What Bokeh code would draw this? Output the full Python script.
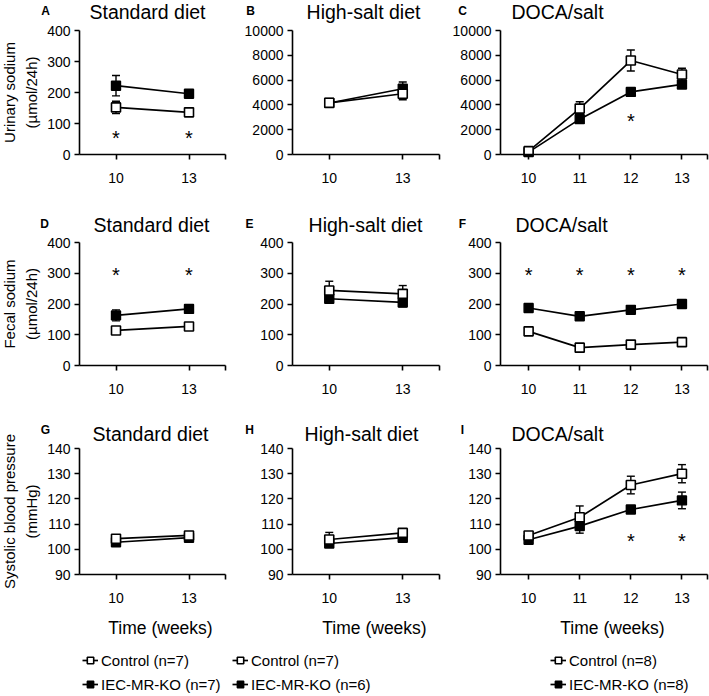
import numpy as np
from bokeh.plotting import figure
from bokeh.models import (Range1d, FixedTicker, Label, Whisker, TeeHead, LinearAxis,
                          ColumnDataSource, Legend, LegendItem)
from bokeh.embed import file_html
from bokeh.resources import INLINE
from bokeh.core.properties import value

FONT = "Liberation Sans"

# ---------------- data ----------------
weeks_std = [10, 13]
weeks_doca = [10, 11, 12, 13]
week_labels_std = ["10", "13"]
week_labels_doca = ["10", "11", "12", "13"]

# Urinary sodium (µmol/24h): mean and SEM
una_std_ctrl = [152, 136]
una_std_ctrl_se = [20, 8]
una_std_ko = [222, 196]
una_std_ko_se = [33, 12]
una_hs_ctrl = [4170, 4900]
una_hs_ctrl_se = [150, 490]
una_hs_ko = [4150, 5300]
una_hs_ko_se = [150, 550]
una_doca_ctrl = [270, 3700, 7580, 6450]
una_doca_ctrl_se = [150, 550, 850, 500]
una_doca_ko = [190, 2850, 5050, 5650]
una_doca_ko_se = [100, 300, 300, 300]

# Fecal sodium (µmol/24h)
fna_std_ctrl = [114, 127]
fna_std_ctrl_se = [6, 6]
fna_std_ko = [163, 184]
fna_std_ko_se = [18, 8]
fna_hs_ctrl = [244, 233]
fna_hs_ctrl_se = [30, 27]
fna_hs_ko = [217, 205]
fna_hs_ko_se = [12, 14]
fna_doca_ctrl = [111, 58, 68, 76]
fna_doca_ctrl_se = [6, 5, 5, 5]
fna_doca_ko = [187, 160, 181, 200]
fna_doca_ko_se = [8, 6, 10, 10]

# Systolic blood pressure (mmHg)
sbp_std_ctrl = [104.2, 105.5]
sbp_std_ctrl_se = [1.0, 1.0]
sbp_std_ko = [102.8, 104.6]
sbp_std_ko_se = [1.0, 1.0]
sbp_hs_ctrl = [103.9, 106.5]
sbp_hs_ctrl_se = [2.8, 1.0]
sbp_hs_ko = [102.3, 104.6]
sbp_hs_ko_se = [1.0, 1.0]
sbp_doca_ctrl = [105.5, 112.7, 125.5, 130.0]
sbp_doca_ctrl_se = [1.2, 4.5, 3.5, 3.6]
sbp_doca_ko = [103.8, 109.2, 115.8, 119.4]
sbp_doca_ko_se = [1.0, 2.8, 1.2, 3.3]

# significance asterisks: weeks and heights
sig_una_std_weeks = [10, 13]
sig_una_std_y = [60, 60]
sig_una_doca_weeks = [12]
sig_una_doca_y = [2900]
sig_fna_std_weeks = [10, 13]
sig_fna_std_y = [300, 300]
sig_fna_doca_weeks = [10, 11, 12, 13]
sig_fna_doca_y = [300, 300, 300, 300]
sig_sbp_doca_weeks = [12, 13]
sig_sbp_doca_y = [104, 104]

panel_letters = [["A", "B", "C"], ["D", "E", "F"], ["G", "H", "I"]]
panel_titles = ["Standard diet", "High-salt diet", "DOCA/salt"]
row_ylabels = [("Urinary sodium", "(µmol/24h)"),
               ("Fecal sodium", "(µmol/24h)"),
               ("Systolic blood pressure", "(mmHg)")]
n_ctrl = [7, 7, 8]
n_ko = [7, 6, 8]
row_yranges = [[(0, 400), (0, 10000), (0, 10000)],
               [(0, 400), (0, 400), (0, 400)],
               [(90, 140), (90, 140), (90, 140)]]
row_yticks = [[list(range(0, 401, 100)), list(range(0, 10001, 2000)), list(range(0, 10001, 2000))],
              [list(range(0, 401, 100))] * 3,
              [list(range(90, 141, 10))] * 3]

# ---------------- layout geometry (page pixels) ----------------
PX0, PX1 = 0, 709      # canvas left / right on the page
PY0, PY1 = 0, 696      # canvas top / bottom on the page
COLS = [dict(fl=79, fw=146), dict(fl=292, fw=147), dict(fl=500, fw=207)]
ROWS = [dict(ft=30, fh=124), dict(ft=242, fh=123), dict(ft=448, fh=126)]
XR_STD = (8.5, 14.5)
XR_DOCA = (9.45, 13.5)

letter_pos = [[(45, 10), (250, 10), (462, 10)],
              [(44, 223), (249, 223), (462, 223)],
              [(45, 429), (249, 429), (462, 429)]]
title_pos = [[(147, 11), (363, 11), (557, 11)],
             [(151, 224), (365, 224), (561, 224)],
             [(150, 433), (361, 433), (557, 433)]]
ylab_x = (9, 31)
time_pos = [(160, 627), (374, 627), (612, 627)]
legend_glyph_left = [82, 232, 550]
legend_top = 651

p = figure(width=PX1 - PX0, height=PY1 - PY0,
           x_range=Range1d(PX0, PX1), y_range=Range1d(PY1, PY0),
           min_border=0, x_axis_location=None, y_axis_location=None,
           output_backend="svg", toolbar_location=None)
p.outline_line_color = None
for g in list(p.center):
    g.visible = False
p.background_fill_color = "white"
p.border_fill_color = "white"


def style_axis(ax):
    ax.axis_line_color = "black"
    ax.axis_line_width = 1.6
    ax.major_tick_line_color = "black"
    ax.major_tick_line_width = 1.6
    ax.major_tick_out = 5
    ax.major_tick_in = 0
    ax.minor_tick_line_color = None
    ax.major_label_text_font = FONT
    ax.major_label_text_font_size = "14px"
    ax.major_label_text_color = "black"


def add_label(x, y, text, size, style="normal", angle=0.0):
    p.add_layout(Label(x=x, y=y, text=text, angle=angle, text_font=FONT,
                       text_font_size=size, text_font_style=style,
                       text_align="center", text_baseline="middle", text_color="black"))


def add_panel(key, r, c, weeks, wlabels, ctrl, ctrl_se, ko, ko_se, sig=None):
    C = COLS[c]
    R = ROWS[r]
    x0, x1 = XR_STD if len(weeks) == 2 else XR_DOCA
    y0, y1 = row_yranges[r][c]
    kx = (x1 - x0) / C["fw"]
    ky = (y1 - y0) / R["fh"]
    xn, yn = "x" + key, "y" + key
    p.extra_x_ranges = {**p.extra_x_ranges,
                        xn: Range1d(x0 - (C["fl"] - PX0) * kx, x1 + (PX1 - C["fl"] - C["fw"]) * kx)}
    p.extra_y_ranges = {**p.extra_y_ranges,
                        yn: Range1d(y0 - (PY1 - R["ft"] - R["fh"]) * ky, y1 + (R["ft"] - PY0) * ky)}

    ov = {w: l for w, l in zip(weeks, wlabels)}
    ov[x1] = ""
    xa = LinearAxis(x_range_name=xn, y_range_name=yn, fixed_location=y0, bounds=(x0, x1),
                    ticker=FixedTicker(ticks=list(weeks) + [x1]),
                    major_label_overrides=ov, major_label_standoff=13)
    style_axis(xa)
    p.add_layout(xa, "below")
    ya = LinearAxis(x_range_name=xn, y_range_name=yn, fixed_location=x0, bounds=(y0, y1),
                    ticker=FixedTicker(ticks=row_yticks[r][c]), major_label_standoff=4)
    style_axis(ya)
    p.add_layout(ya, "left")

    # error bars (beneath the markers)
    for vals, se in ((ko, ko_se), (ctrl, ctrl_se)):
        src = ColumnDataSource(dict(x=weeks,
                                    lo=[v - e for v, e in zip(vals, se)],
                                    hi=[v + e for v, e in zip(vals, se)]))
        wk = Whisker(source=src, base="x", lower="lo", upper="hi", level="underlay",
                     x_range_name=xn, y_range_name=yn,
                     line_color="black", line_width=1.4,
                     upper_head=TeeHead(size=8, line_color="black", line_width=1.4),
                     lower_head=TeeHead(size=8, line_color="black", line_width=1.4))
        p.add_layout(wk)

    kw = dict(x_range_name=xn, y_range_name=yn)
    ko_line = p.line(weeks, ko, line_color="black", line_width=1.7, **kw)
    ko_pts = p.scatter(weeks, ko, marker="square", size=9, fill_color="black",
                       line_color="black", line_width=1.4, **kw)
    c_line = p.line(weeks, ctrl, line_color="black", line_width=1.7, **kw)
    c_pts = p.scatter(weeks, ctrl, marker="square", size=9, fill_color="white",
                      line_color="black", line_width=1.6, **kw)

    if sig is not None:
        sw, sy = sig
        p.text(x=sw, y=sy, text=["*"] * len(sw), text_font=value(FONT),
               text_font_size=value("20px"), text_align="center",
               text_baseline="middle", y_offset=2, text_color="black", **kw)

    add_label(*letter_pos[r][c], panel_letters[r][c], "12px", "bold")
    add_label(*title_pos[r][c], panel_titles[c], "19.5px")

    if c == 0:
        cy = R["ft"] + R["fh"] / 2
        for k, txt in enumerate(row_ylabels[r]):
            add_label(ylab_x[k], cy, txt, "15px", angle=np.pi / 2)

    if r == 2:
        add_label(*time_pos[c], "Time (weeks)", "17.5px")
        leg = Legend(items=[LegendItem(label=f"Control (n={n_ctrl[c]})", renderers=[c_line, c_pts]),
                            LegendItem(label=f"IEC-MR-KO (n={n_ko[c]})", renderers=[ko_line, ko_pts])],
                     location=(legend_glyph_left[c] - PX0, PY1 - (legend_top + 42)),
                     orientation="vertical", padding=0, margin=0, spacing=6,
                     glyph_width=16, glyph_height=18, label_height=18, label_standoff=3,
                     label_text_font=FONT, label_text_font_size="15px",
                     label_text_color="black", border_line_color=None,
                     background_fill_alpha=0)
        p.add_layout(leg)


add_panel("A", 0, 0, weeks_std, week_labels_std, una_std_ctrl, una_std_ctrl_se, una_std_ko, una_std_ko_se,
          (sig_una_std_weeks, sig_una_std_y))
add_panel("B", 0, 1, weeks_std, week_labels_std, una_hs_ctrl, una_hs_ctrl_se, una_hs_ko, una_hs_ko_se)
add_panel("C", 0, 2, weeks_doca, week_labels_doca, una_doca_ctrl, una_doca_ctrl_se, una_doca_ko,
          una_doca_ko_se, (sig_una_doca_weeks, sig_una_doca_y))
add_panel("D", 1, 0, weeks_std, week_labels_std, fna_std_ctrl, fna_std_ctrl_se, fna_std_ko, fna_std_ko_se,
          (sig_fna_std_weeks, sig_fna_std_y))
add_panel("E", 1, 1, weeks_std, week_labels_std, fna_hs_ctrl, fna_hs_ctrl_se, fna_hs_ko, fna_hs_ko_se)
add_panel("F", 1, 2, weeks_doca, week_labels_doca, fna_doca_ctrl, fna_doca_ctrl_se, fna_doca_ko,
          fna_doca_ko_se, (sig_fna_doca_weeks, sig_fna_doca_y))
add_panel("G", 2, 0, weeks_std, week_labels_std, sbp_std_ctrl, sbp_std_ctrl_se, sbp_std_ko, sbp_std_ko_se)
add_panel("H", 2, 1, weeks_std, week_labels_std, sbp_hs_ctrl, sbp_hs_ctrl_se, sbp_hs_ko, sbp_hs_ko_se)
add_panel("I", 2, 2, weeks_doca, week_labels_doca, sbp_doca_ctrl, sbp_doca_ctrl_se, sbp_doca_ko,
          sbp_doca_ko_se, (sig_sbp_doca_weeks, sig_sbp_doca_y))

open("out.html", "w").write(file_html(p, INLINE))
